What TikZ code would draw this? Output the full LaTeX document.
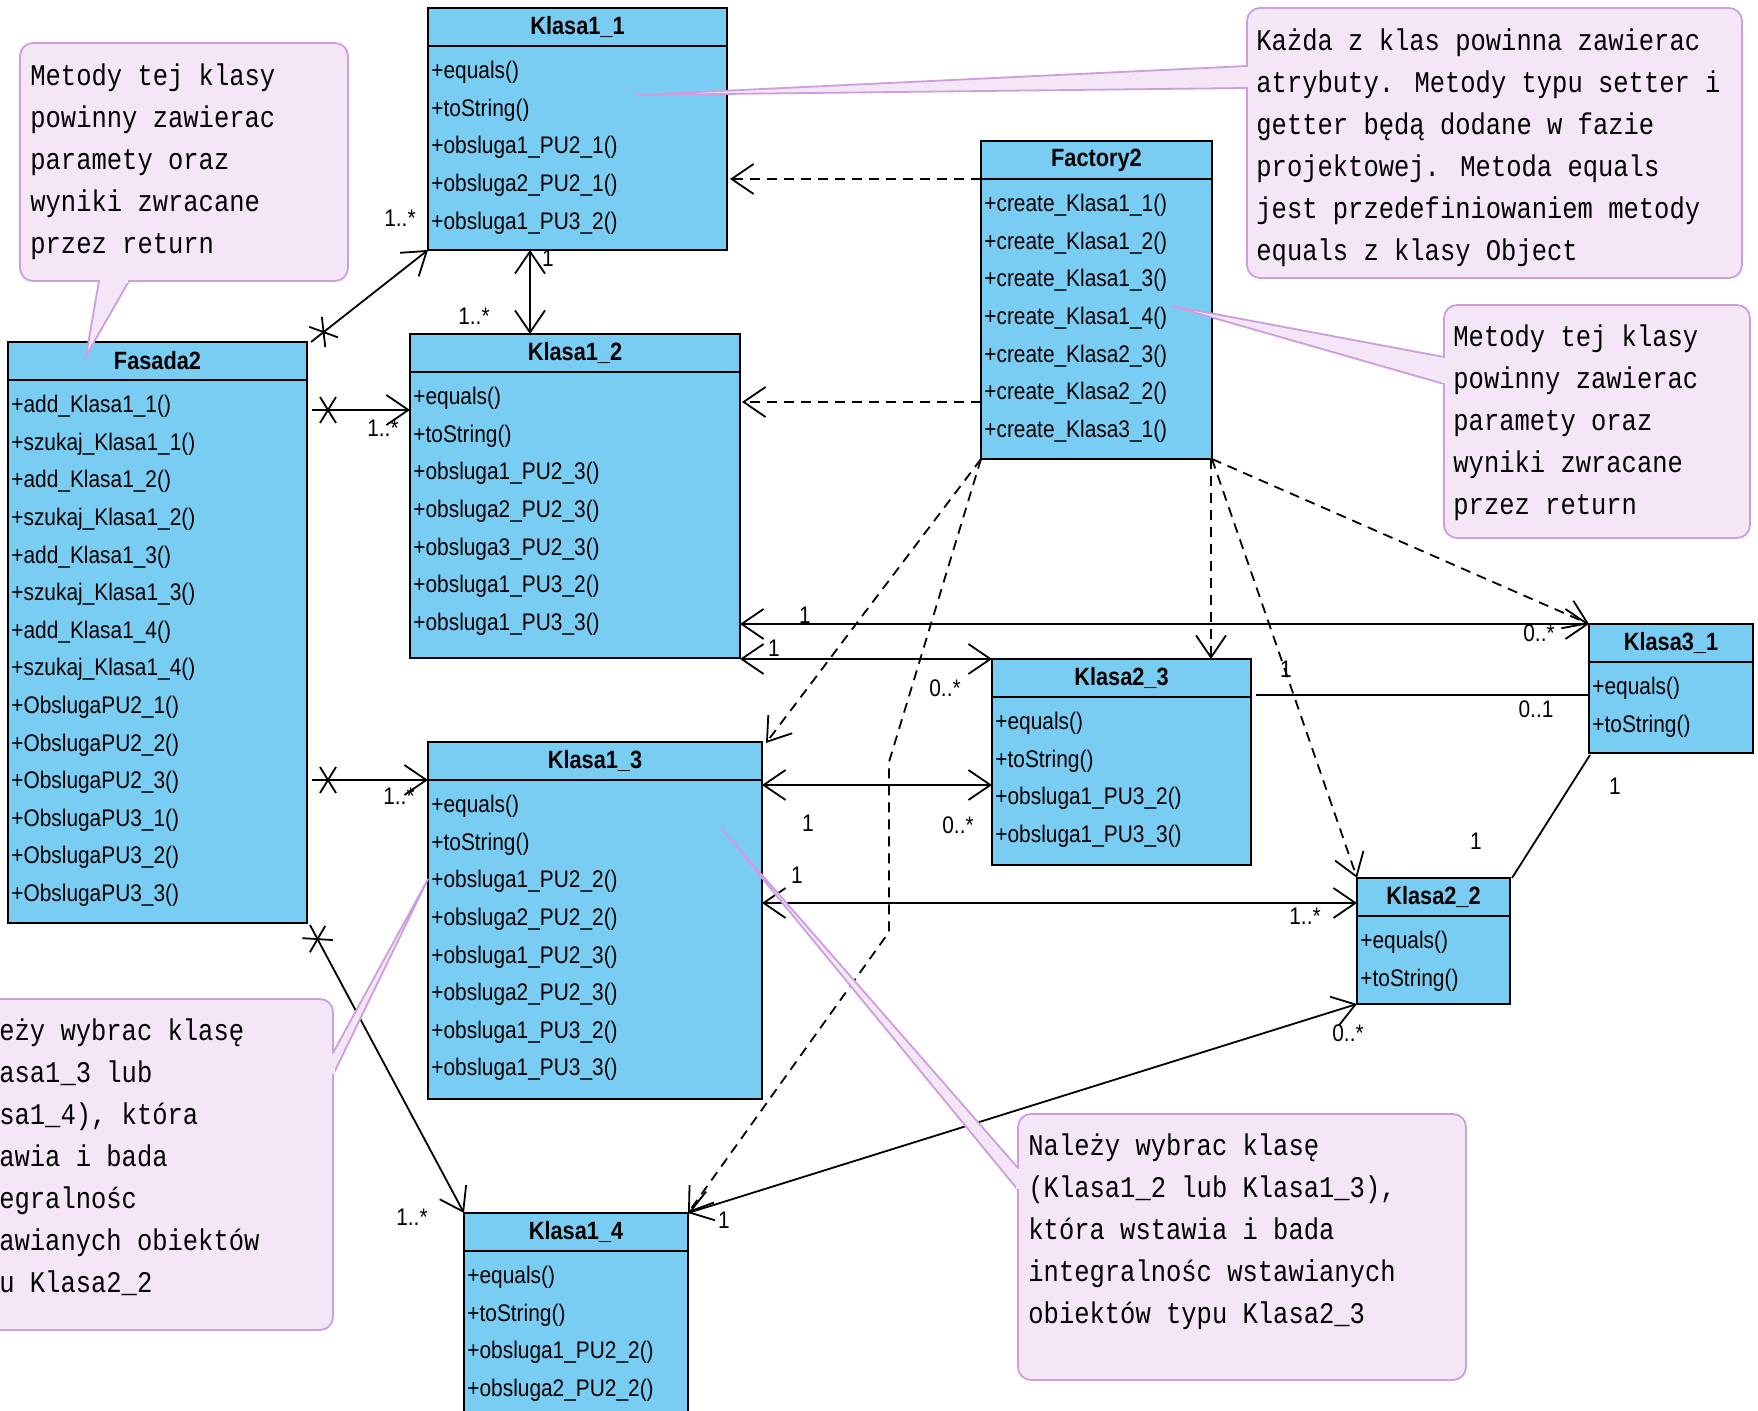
\documentclass[tikz,border=0pt]{standalone}
\usepackage{fontspec}
\usetikzlibrary{arrows.meta,calc,decorations.markings}
\newfontfamily\umlfont[FakeStretch=0.87]{Liberation Sans}
\newfontfamily\notefont[FakeStretch=0.85]{Liberation Mono}
\definecolor{classbg}{RGB}{122,205,242}
\definecolor{notebg}{RGB}{244,229,247}
\definecolor{noteborder}{RGB}{204,158,222}

\tikzset{
  classbox/.style={draw, line width=1.1pt, fill=classbg, inner sep=0pt, outer sep=0pt},
  classtitle/.style={inner sep=0pt, font=\umlfont\bfseries\fontsize{12.5}{15}\selectfont},
  classrow/.style={anchor=west, inner sep=0pt, font=\umlfont\fontsize{12}{14}\selectfont},
  mult/.style={inner sep=0pt, font=\umlfont\fontsize{12}{14}\selectfont},
  note/.style={draw=noteborder, fill=notebg, line width=0.9pt, rounded corners=6.5pt,
    inner sep=0pt, outer sep=0pt, anchor=north west},
  notetext/.style={anchor=north west, align=left, inner sep=0pt,
    font=\notefont\fontsize{15}{21}\selectfont},
  tailline/.style={draw=noteborder, line width=0.9pt},
  assoc/.style={line width=0.9pt},
  nav/.style={assoc, -{Straight Barb[length=11pt,width=15pt]}},
  both/.style={assoc, {Straight Barb[length=11pt,width=15pt]}-{Straight Barb[length=11pt,width=15pt]}},
  dep/.style={assoc, dash pattern=on 5pt off 3.5pt, -{Straight Barb[length=11pt,width=15pt]}},
  xend/.style={postaction={decorate, decoration={markings, mark=at position 8pt with
    {\draw[-, solid, line width=0.9pt] (-4pt,-6.5pt) -- (4pt,6.5pt) (-4pt,6.5pt) -- (4pt,-6.5pt);}}}}
}

% name, x, y, width, height, title, methods
\newcommand{\umlclass}[7]{%
  \node[classbox, anchor=north west, minimum width=#4*0.5pt, minimum height=#5*0.5pt] (#1) at (#2,#3) {};
  \draw[line width=1.1pt] ($(#1.north west)+(0,38)$) -- ($(#1.north east)+(0,38)$);
  \node[classtitle] (#1t) at ($(#1.north)+(0,19)$) {#6};
  \foreach \meth [count=\n] in {#7}
    \node[classrow] (#1r\n) at ($(#1.north west)+(3,{64.5+(\n-1)*37.6})$) {\meth};
}

% base point, base point, tip
\newcommand{\notetail}[3]{%
  \fill[notebg] (#1) -- (#3) -- (#2) -- cycle;
  \draw[tailline] (#1) -- (#3) -- (#2);
  \draw[notebg, line width=1.8pt, shorten <=0.6pt, shorten >=0.6pt] (#1) -- (#2);
}

\begin{document}
\begin{tikzpicture}[x=0.5pt, y=-0.5pt]
\useasboundingbox (0,0) rectangle (1758,1411);
\clip (0,0) rectangle (1758,1411);

% classes
\umlclass{k11}{428}{8}{299}{242}{Klasa1\_1}{+equals(), +toString(), +obsluga1\_PU2\_1(), +obsluga2\_PU2\_1(), +obsluga1\_PU3\_2()}
\umlclass{f2}{981}{141}{231}{318}{Factory2}{+create\_Klasa1\_1(), +create\_Klasa1\_2(), +create\_Klasa1\_3(), +create\_Klasa1\_4(), +create\_Klasa2\_3(), +create\_Klasa2\_2(), +create\_Klasa3\_1()}
\umlclass{fas}{8}{342}{299}{581}{Fasada2}{+add\_Klasa1\_1(), +szukaj\_Klasa1\_1(), +add\_Klasa1\_2(), +szukaj\_Klasa1\_2(), +add\_Klasa1\_3(), +szukaj\_Klasa1\_3(), +add\_Klasa1\_4(), +szukaj\_Klasa1\_4(), +ObslugaPU2\_1(), +ObslugaPU2\_2(), +ObslugaPU2\_3(), +ObslugaPU3\_1(), +ObslugaPU3\_2(), +ObslugaPU3\_3()}
\umlclass{k12}{410}{334}{330}{324}{Klasa1\_2}{+equals(), +toString(), +obsluga1\_PU2\_3(), +obsluga2\_PU2\_3(), +obsluga3\_PU2\_3(), +obsluga1\_PU3\_2(), +obsluga1\_PU3\_3()}
\umlclass{k13}{428}{742}{334}{357}{Klasa1\_3}{+equals(), +toString(), +obsluga1\_PU2\_2(), +obsluga2\_PU2\_2(), +obsluga1\_PU2\_3(), +obsluga2\_PU2\_3(), +obsluga1\_PU3\_2(), +obsluga1\_PU3\_3()}
\umlclass{k14}{464}{1213}{224}{205}{Klasa1\_4}{+equals(), +toString(), +obsluga1\_PU2\_2(), +obsluga2\_PU2\_2()}
\umlclass{k23}{992}{659}{259}{206}{Klasa2\_3}{+equals(), +toString(), +obsluga1\_PU3\_2(), +obsluga1\_PU3\_3()}
\umlclass{k31}{1589}{624}{164}{129}{Klasa3\_1}{+equals(), +toString()}
\umlclass{k22}{1357}{878}{153}{126}{Klasa2\_2}{+equals(), +toString()}

% Fasada2 -> Klasa1_x
\draw[nav, xend] ($(fas.north east)+(4,0)$) -- (k11.south west);
\draw[nav, xend] ($(fas.north east)+(5,68)$) -- ($(k12.north west)+(0,76)$);
\draw[nav, xend] ($(fas.north east)+(5,438)$) -- ($(k13.north west)+(0,38)$);
\draw[nav, xend] ($(fas.south east)+(3,2)$) -- (k14.north west);
\draw[both] ($(k11.south west)+(102,0)$) -- ($(k12.north west)+(120,0)$);

% Factory2 dependencies
\draw[dep] ($(f2.north west)+(0,38)$) -- ($(k11.north east)+(3,171)$);
\draw[dep] ($(f2.north west)+(0,261)$) -- ($(k12.north east)+(2,68)$);
\draw[dep] (f2.south west) -- ($(k13.north east)+(4,1)$);
\draw[dep] (f2.south west) -- (889,762) -- (889,932) -- (k14.north east);
\draw[dep] ($(f2.south east)+(-1,0)$) -- ($(k23.north west)+(219,0)$);
\draw[dep] (f2.south east) -- (k22.north west);
\draw[dep] (f2.south east) -- (k31.north west);

% associations
\draw[both] ($(k12.north east)+(0,290)$) -- (k31.north west);
\draw[both] ($(k12.south east)+(0,1)$) -- (k23.north west);
\draw[assoc] ($(k23.north east)+(5,36)$) -- ($(k31.north west)+(0,71)$);
\draw[both] ($(k13.north east)+(0,43)$) -- ($(k23.north west)+(0,126)$);
\draw[both] ($(k13.north east)+(0,161)$) -- ($(k22.north west)+(0,25)$);
\draw[assoc] ($(k31.south west)+(1,2)$) -- ($(k22.north east)+(2,0)$);
\draw[both] (k22.south west) -- (k14.north east);

% multiplicities
\node[mult] (m1) at (400,218) {1..*};
\node[mult] (m2) at (548,258) {1};
\node[mult] (m3) at (474,316) {1..*};
\node[mult] (m4) at (383,428) {1..*};
\node[mult] (m5) at (805,615) {1};
\node[mult] (m6) at (1539,633) {0..*};
\node[mult] (m7) at (774,648) {1};
\node[mult] (m8) at (945,688) {0..*};
\node[mult] (m9) at (1286,669) {1};
\node[mult] (m10) at (1536,709) {0..1};
\node[mult] (m11) at (808,823) {1};
\node[mult] (m12) at (958,825) {0..*};
\node[mult] (m13) at (797,875) {1};
\node[mult] (m14) at (1305,916) {1..*};
\node[mult] (m15) at (1615,786) {1};
\node[mult] (m16) at (1476,841) {1};
\node[mult] (m17) at (1348,1033) {0..*};
\node[mult] (m18) at (724,1220) {1};
\node[mult] (m19) at (412,1217) {1..*};
\node[mult] (m20) at (399,796) {1..*};

% notes
\node[note, minimum width=164pt, minimum height=119pt] (ntl) at (20,43) {};
\node[notetext] (ntlt) at (30,55.6) {\strut Metody tej klasy\\powinny zawierac\\paramety oraz\\wyniki zwracane\\przez return};
\notetail{$(ntl.south west)+(79,0)$}{$(ntl.south west)+(109,0)$}{$(fas.north west)+(78,14)$}

\node[note, minimum width=247.5pt, minimum height=135pt] (ntr) at (1247,8) {};
\node[notetext] (ntrt) at (1256,20.6) {\strut Każda z klas powinna zawierac\\atrybuty. Metody typu setter i\\getter będą dodane w fazie\\projektowej. Metoda equals\\jest przedefiniowaniem metody\\equals z klasy Object};
\notetail{$(ntr.north west)+(0,58)$}{$(ntr.north west)+(0,80)$}{$(k11.north west)+(208,87)$}

\node[note, minimum width=153pt, minimum height=116.5pt] (nmr) at (1444,305) {};
\node[notetext] (nmrt) at (1453,316.6) {\strut Metody tej klasy\\powinny zawierac\\paramety oraz\\wyniki zwracane\\przez return};
\notetail{$(nmr.north west)+(0,52)$}{$(nmr.north west)+(0,79)$}{$(f2.north west)+(191,165)$}

\node[note, minimum width=195pt, minimum height=165.5pt] (nbl) at (-57,999) {};
\node[notetext] (nblt) at (-47,1010.6) {\strut Należy wybrac klasę\\(Klasa1\_3 lub\\Klasa1\_4), która\\wstawia i bada\\integralnośc\\wstawianych obiektów\\typu Klasa2\_2};
\notetail{$(nbl.north east)+(0,54)$}{$(nbl.north east)+(0,76)$}{$(k13.north west)+(0,137)$}

\node[note, minimum width=224pt, minimum height=133pt] (nbm) at (1018,1114) {};
\node[notetext] (nbmt) at (1028,1125.6) {\strut Należy wybrac klasę\\(Klasa1\_2 lub Klasa1\_3),\\która wstawia i bada\\integralnośc wstawianych\\obiektów typu Klasa2\_3};
\notetail{$(nbm.north west)+(0,54)$}{$(nbm.north west)+(0,76)$}{$(k13.north west)+(293,86)$}
\end{tikzpicture}
\end{document}
